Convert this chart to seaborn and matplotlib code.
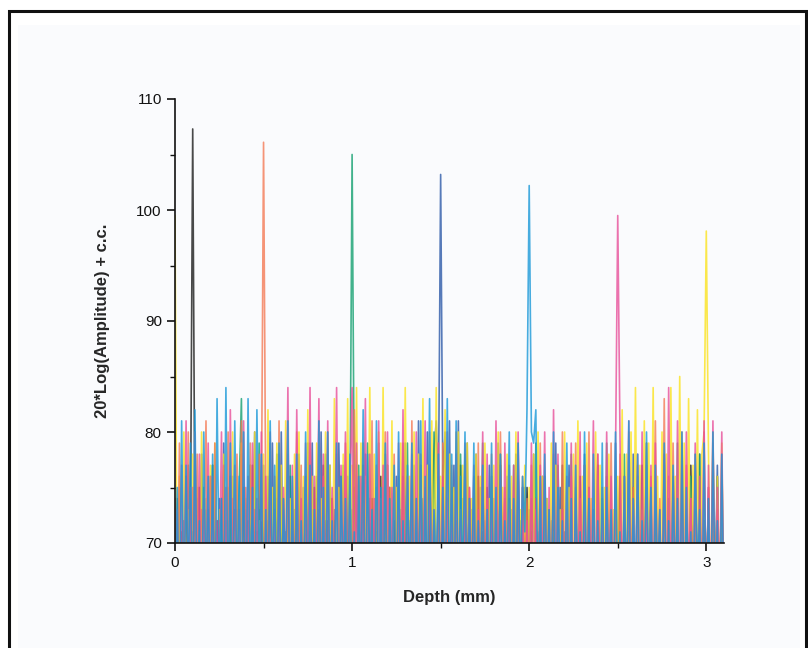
import numpy as np
import pandas as pd
import matplotlib
matplotlib.use('Agg')
import matplotlib.pyplot as plt
import seaborn as sns
from matplotlib.patches import Rectangle
from matplotlib.ticker import MultipleLocator

# depth sampling (mm), 0 .. 3.1 every 0.0125
depth = np.round(np.arange(249) * 0.0125, 4)

# one A-scan per reflector position (dB); 20 samples per line
black_trace = [
    63, 74, 60, 71, 66, 76, 61, 72, 107.3, 71, 64, 75, 59, 73, 67, 70, 62, 77, 65, 72,
    60, 74, 68, 71, 63, 76, 59, 73, 66, 70, 62, 75, 64, 72, 58, 77, 67, 71, 61, 74,
    65, 72, 60, 76, 63, 70, 68, 75, 59, 73, 62, 77, 66, 71, 61, 74, 64, 72, 58, 76,
    67, 71, 62, 75, 60, 73, 65, 77, 59, 72, 63, 74, 68, 70, 61, 76, 64, 73, 60, 71,
    66, 75, 61, 72, 64, 77, 59, 70, 63, 74, 67, 71, 60, 76, 62, 73, 65, 75, 58, 72,
    64, 70, 61, 76, 66, 73, 59, 75, 63, 71, 68, 77, 60, 72, 62, 74, 65, 70, 61, 76,
    63, 73, 67, 71, 60, 75, 64, 72, 58, 77, 62, 70, 66, 74, 61, 73, 65, 76, 59, 71,
    62, 75, 60, 72, 65, 70, 63, 77, 67, 73, 59, 74, 64, 71, 61, 76, 66, 72, 60, 75,
    68, 71, 62, 74, 59, 73, 65, 76, 61, 70, 64, 75, 60, 72, 67, 77, 63, 71, 58, 74,
    65, 72, 61, 76, 63, 70, 66, 74, 60, 73, 62, 77, 64, 71, 59, 75, 67, 72, 61, 70,
    63, 76, 60, 73, 66, 71, 62, 75, 58, 72, 65, 77, 61, 70, 64, 74, 60, 73, 67, 71,
    62, 75, 59, 72, 64, 76, 61, 70, 66, 74, 60, 73, 63, 77, 65, 71, 59, 75, 62, 72,
    66, 74, 61, 70, 63, 76, 60, 73, 65,
]
orange_trace = [
    74, 61, 79, 64, 72, 59, 80, 66, 75, 62, 78, 60, 73, 67, 81, 63, 76, 58, 79, 65,
    72, 61, 77, 64, 80, 59, 74, 66, 78, 62, 81, 60, 75, 63, 79, 67, 73, 60, 78, 72,
    106.1, 73, 62, 79, 65, 76, 60, 81, 63, 74, 59, 78, 66, 72, 61, 80, 64, 77, 60, 75,
    67, 79, 62, 73, 59, 81, 65, 76, 61, 80, 63, 74, 58, 78, 66, 72, 60, 79, 64, 75,
    61, 82, 63, 76, 60, 79, 66, 73, 59, 81, 62, 77, 65, 74, 60, 80, 63, 75, 58, 78,
    66, 73, 61, 79, 64, 76, 59, 81, 62, 74, 67, 78, 60, 75, 63, 80, 65, 72, 59, 77,
    62, 79, 60, 74, 66, 77, 61, 80, 64, 73, 58, 78, 63, 75, 67, 72, 60, 79, 62, 76,
    65, 74, 59, 78, 63, 72, 61, 80, 66, 75, 60, 77, 64, 73, 58, 79, 62, 76, 65, 74,
    60, 77, 64, 73, 59, 79, 62, 75, 66, 72, 61, 78, 63, 74, 60, 80, 65, 73, 58, 76,
    63, 79, 61, 74, 66, 77, 59, 80, 62, 73, 65, 78, 60, 75, 64, 72, 61, 79, 63, 76,
    59, 78, 64, 73, 61, 80, 65, 75, 60, 77, 63, 72, 66, 79, 58, 76, 62, 81, 64, 74,
    61, 83, 63, 76, 59, 79, 66, 73, 62, 80, 60, 77, 65, 74, 61, 78, 63, 72, 59, 80,
    64, 75, 61, 79, 66, 73, 60, 78, 62,
]
green_trace = [
    62, 73, 66, 70, 59, 76, 64, 72, 61, 78, 67, 71, 60, 75, 63, 73, 58, 77, 65, 70,
    61, 74, 66, 72, 59, 76, 63, 71, 68, 75, 83, 62, 73, 60, 77, 65, 71, 61, 79, 64,
    72, 59, 76, 66, 70, 62, 78, 60, 74, 64, 71, 58, 77, 65, 73, 61, 75, 67, 70, 62,
    79, 60, 73, 64, 76, 61, 71, 66, 78, 59, 74, 63, 72, 68, 75, 60, 77, 62, 70, 72,
    105.0, 74, 61, 77, 64, 71, 59, 79, 66, 73, 62, 75, 60, 72, 65, 78, 61, 74, 67, 70,
    63, 76, 60, 72, 66, 79, 58, 74, 64, 71, 61, 77, 65, 73, 59, 75, 62, 80, 66, 71,
    60, 77, 64, 73, 61, 75, 67, 70, 59, 78, 63, 72, 66, 74, 60, 76, 62, 71, 65, 79,
    61, 73, 58, 76, 64, 72, 60, 78, 66, 74, 62, 70, 59, 77, 65, 73, 61, 75, 63, 71,
    67, 74, 60, 79, 62, 72, 65, 76, 59, 73, 64, 71, 61, 77, 66, 75, 60, 72, 63, 78,
    59, 75, 65, 71, 61, 77, 63, 73, 67, 70, 60, 76, 62, 74, 58, 79, 64, 72, 61, 75,
    66, 72, 60, 78, 63, 74, 61, 71, 65, 76, 59, 73, 67, 79, 62, 72, 60, 75, 64, 71,
    62, 77, 59, 74, 66, 72, 61, 79, 63, 75, 60, 71, 65, 76, 58, 73, 64, 78, 61, 72,
    65, 74, 60, 77, 62, 71, 67, 75, 61,
]
navy_trace = [
    70, 61, 75, 64, 72, 59, 77, 66, 71, 62, 74, 60, 78, 65, 73, 58, 76, 63, 71, 67,
    74, 60, 79, 62, 72, 65, 76, 59, 73, 61, 78, 64, 71, 60, 75, 66, 80, 62, 73, 59,
    77, 63, 72, 60, 79, 65, 74, 61, 80, 64, 71, 58, 76, 66, 73, 60, 78, 62, 75, 63,
    71, 67, 79, 60, 74, 62, 80, 65, 72, 59, 77, 63, 73, 61, 79, 66, 71, 60, 76, 64,
    73, 59, 77, 65, 71, 62, 78, 60, 74, 66, 72, 61, 79, 63, 75, 58, 77, 64, 70, 62,
    76, 60, 73, 65, 79, 61, 72, 63, 77, 59, 81, 64, 74, 62, 80, 66, 73, 78, 81, 74,
    103.2, 75, 80, 66, 81, 62, 77, 64, 81, 60, 74, 67, 79, 61, 73, 63, 78, 59, 75, 65,
    72, 60, 77, 64, 74, 58, 79, 62, 71, 66, 76, 61, 73, 63, 78, 60, 72, 65, 75, 59,
    73, 63, 78, 61, 71, 66, 76, 59, 74, 62, 72, 64, 79, 60, 75, 67, 71, 61, 77, 63,
    60, 74, 65, 72, 59, 78, 62, 75, 64, 71, 61, 77, 66, 73, 58, 76, 63, 72, 60, 79,
    64, 73, 61, 76, 66, 71, 59, 78, 63, 74, 60, 72, 65, 77, 62, 75, 58, 73, 64, 71,
    61, 78, 63, 72, 60, 75, 66, 74, 59, 79, 62, 71, 64, 76, 61, 73, 67, 78, 60, 72,
    63, 75, 59, 73, 65, 77, 61, 72, 64,
]
blue_trace = [
    63, 75, 60, 81, 63, 77, 66, 79, 61, 82, 64, 72, 59, 80, 65, 76, 62, 78, 60, 83,
    66, 74, 61, 84, 63, 79, 60, 81, 65, 76, 62, 80, 59, 83, 64, 75, 61, 82, 66, 78,
    60, 73, 62, 81, 65, 77, 60, 79, 63, 74, 66, 81, 61, 76, 59, 78, 64, 72, 62, 80,
    60, 77, 64, 73, 61, 81, 63, 75, 59, 80, 65, 72, 62, 79, 60, 76, 66, 74, 61, 78,
    63, 71, 60, 76, 64, 82, 61, 78, 66, 73, 59, 81, 63, 75, 62, 79, 60, 74, 65, 77,
    61, 80, 63, 72, 60, 77, 65, 79, 61, 74, 62, 81, 59, 76, 64, 83, 60, 73, 66, 78,
    62, 75, 61, 83, 64, 78, 60, 81, 62, 76, 66, 80, 59, 74, 63, 79, 61, 72, 65, 77,
    60, 73, 64, 79, 61, 75, 59, 78, 63, 72, 66, 80, 60, 74, 62, 79, 65, 76, 71, 82,
    102.2, 80, 79, 82, 63, 76, 60, 78, 65, 73, 61, 80, 62, 75, 66, 72, 59, 79, 63, 74,
    60, 77, 64, 71, 61, 80, 63, 74, 59, 78, 65, 72, 60, 79, 62, 75, 66, 73, 61, 80,
    64, 71, 60, 76, 63, 81, 59, 74, 65, 78, 61, 72, 62, 80, 64, 75, 60, 77, 66, 73,
    61, 79, 63, 72, 60, 77, 65, 74, 59, 80, 62, 75, 64, 71, 61, 78, 66, 73, 60, 79,
    63, 74, 61, 80, 64, 72, 60, 78, 62,
]
pink_trace = [
    64, 73, 60, 77, 62, 81, 66, 75, 59, 80, 63, 78, 61, 74, 65, 79, 60, 76, 62, 72,
    66, 80, 61, 75, 59, 82, 64, 77, 62, 73, 60, 81, 65, 76, 61, 79, 63, 74, 58, 80,
    62, 76, 65, 80, 60, 73, 63, 78, 61, 75, 66, 84, 59, 77, 62, 82, 64, 74, 60, 79,
    63, 84, 61, 76, 65, 83, 60, 78, 62, 81, 59, 75, 64, 84, 61, 77, 66, 80, 60, 74,
    84, 62, 79, 60, 76, 65, 83, 61, 78, 63, 74, 59, 81, 64, 77, 60, 80, 62, 75, 66,
    61, 79, 63, 82, 60, 76, 65, 78, 59, 80, 62, 74, 64, 81, 61, 77, 66, 73, 60, 79,
    64, 76, 61, 80, 59, 74, 63, 78, 66, 72, 60, 79, 62, 75, 65, 77, 61, 73, 64, 80,
    60, 78, 63, 74, 61, 81, 66, 76, 59, 79, 62, 73, 65, 77, 60, 80, 63, 75, 61, 72,
    64, 79, 60, 74, 62, 77, 66, 80, 61, 75, 59, 82, 63, 78, 60, 73, 65, 76, 62, 79,
    61, 74, 64, 80, 60, 77, 62, 75, 66, 81, 59, 78, 63, 73, 61, 80, 65, 76, 62, 78,
    99.5, 80, 63, 76, 60, 81, 62, 74, 65, 78, 61, 80, 59, 75, 64, 77, 60, 79, 63, 73,
    62, 78, 60, 84, 64, 75, 61, 81, 63, 77, 59, 80, 66, 74, 62, 79, 60, 76, 64, 81,
    61, 77, 63, 81, 60, 75, 65, 80, 62,
]
yellow_trace = [
    99.5, 62, 76, 60, 80, 64, 73, 61, 78, 63, 75, 59, 80, 65, 74, 61, 77, 62, 79, 60,
    73, 64, 78, 61, 75, 59, 80, 63, 76, 62, 79, 60, 74, 65, 77, 61, 80, 63, 72, 60,
    78, 62, 82, 64, 75, 60, 79, 63, 77, 61, 81, 65, 74, 59, 78, 62, 80, 64, 76, 61,
    82, 60, 76, 63, 79, 61, 74, 65, 80, 59, 77, 62, 83, 64, 75, 60, 78, 63, 83, 61,
    77, 64, 84, 60, 79, 62, 76, 65, 84, 61, 78, 63, 80, 59, 84, 62, 77, 64, 81, 60,
    75, 63, 79, 61, 84, 64, 76, 60, 80, 62, 78, 65, 83, 61, 77, 59, 81, 63, 84, 62,
    76, 60, 82, 64, 78, 61, 75, 63, 80, 59, 77, 62, 79, 65, 74, 60, 78, 63, 76, 61,
    79, 62, 74, 60, 77, 64, 80, 61, 75, 63, 78, 59, 76, 62, 80, 65, 73, 61, 77, 60,
    75, 63, 78, 61, 80, 59, 76, 64, 74, 62, 79, 60, 77, 65, 73, 61, 80, 63, 75, 60,
    78, 62, 81, 64, 76, 60, 79, 63, 74, 61, 80, 65, 77, 59, 75, 62, 78, 64, 73, 60,
    76, 63, 82, 61, 78, 64, 80, 60, 84, 62, 77, 65, 81, 59, 79, 63, 84, 61, 76, 62,
    80, 64, 78, 60, 84, 62, 76, 63, 85, 61, 79, 59, 83, 64, 77, 62, 82, 60, 78, 80,
    98.1, 78, 63, 80, 61, 76, 64, 79, 62,
]

# drawing order (back to front) and colour of each scan
traces = [black_trace, navy_trace, green_trace, yellow_trace,
          orange_trace, pink_trace, blue_trace]
colors = ['#1c1c1c', '#2d5aa8', '#14a070', '#fbe320',
          '#f47a55', '#e8509a', '#1a98d8']
for t in traces:
    assert len(t) == len(depth), len(t)

sns.set_style('ticks')
plt.rcParams['font.family'] = ['Liberation Sans', 'DejaVu Sans']

fig = plt.figure(figsize=(8.08, 6.48), dpi=100)
fig.patch.set_facecolor('white')

# light page area and the black frame around it
fig.patches.append(Rectangle((18 / 808, -0.05), 782 / 808, 1.05 - 25 / 648,
                             transform=fig.transFigure, facecolor='#fafbfd',
                             edgecolor='none', zorder=-2))
fig.patches.append(Rectangle((9 / 808, -0.05), 797 / 808, 1.05 - 11 / 648,
                             transform=fig.transFigure, facecolor='none',
                             edgecolor='#111111', linewidth=2.2, zorder=-1))

ax = fig.add_axes([175 / 808, 1 - 543 / 648, 549 / 808, 444 / 648])
ax.set_facecolor('none')

for trace, c in zip(traces, colors):
    sns.lineplot(x=depth, y=trace, ax=ax, color=c, linewidth=1.2, alpha=0.8,
                 estimator=None, sort=False)

ax.set_xlim(0, 3.1)
ax.set_ylim(70, 110)
ax.xaxis.set_major_locator(MultipleLocator(1))
ax.xaxis.set_minor_locator(MultipleLocator(0.5))
ax.yaxis.set_major_locator(MultipleLocator(10))
ax.yaxis.set_minor_locator(MultipleLocator(5))
ax.tick_params(which='major', direction='out', length=6, width=1.2,
               labelsize=11, colors='#111111')
ax.tick_params(which='minor', direction='out', length=3.5, width=1.0,
               colors='#111111')
sns.despine(ax=ax)
for s in ['left', 'bottom']:
    ax.spines[s].set_linewidth(1.2)
    ax.spines[s].set_color('#111111')

ax.set_xlabel('Depth (mm)', fontsize=12, fontweight='bold', labelpad=14)
ax.set_ylabel('20*Log(Amplitude) + c.c.', fontsize=12, fontweight='bold',
              labelpad=19)

fig.savefig('out.png', dpi=100)
